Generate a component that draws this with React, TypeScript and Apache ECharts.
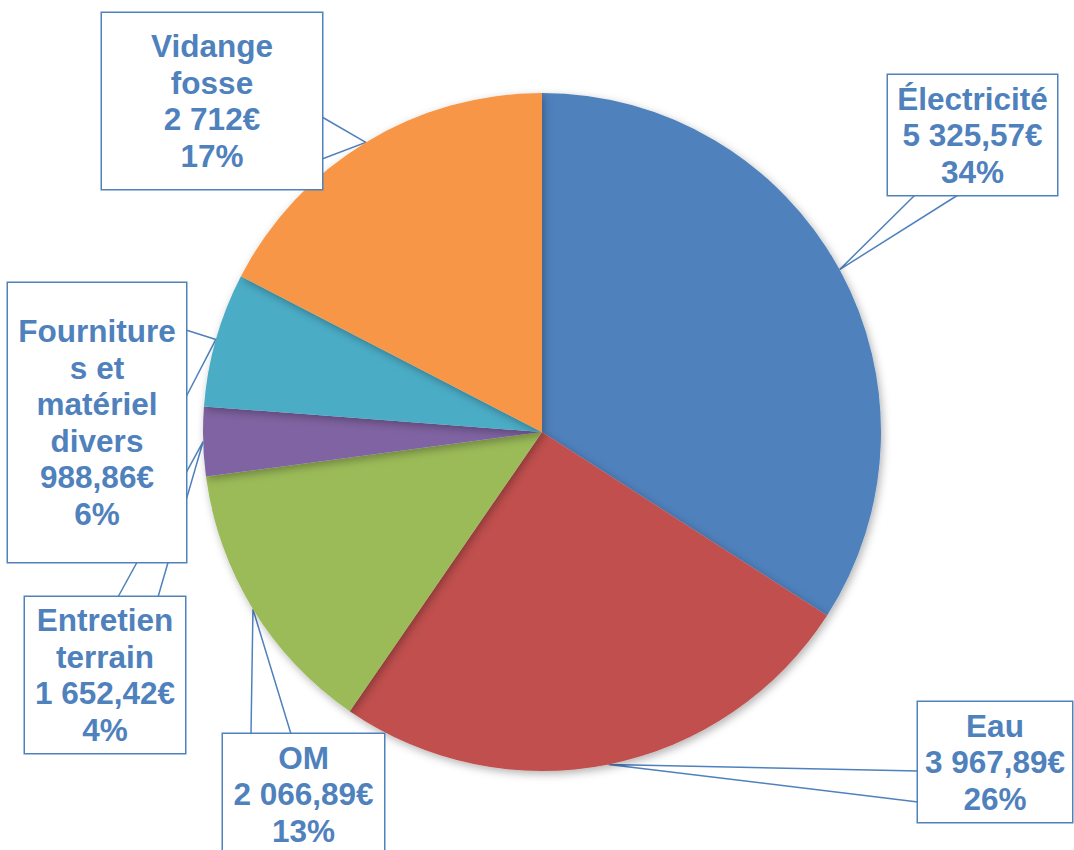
import React, { useEffect, useRef } from "react";
import * as echarts from "echarts";

const categories = [
  "Électricité",
  "Eau",
  "OM",
  "Entretien terrain",
  "Fournitures et matériel divers",
  "Vidange fosse",
];
const labelNames = [
  "Électricité",
  "Eau",
  "OM",
  "Entretien\nterrain",
  "Fourniture\ns et\nmatériel\ndivers",
  "Vidange\nfosse",
];
const amountLabels = ["5 325,57€", "3 967,89€", "2 066,89€", "1 652,42€", "988,86€", "2 712€"];
const percentLabels = ["34%", "26%", "13%", "4%", "6%", "17%"];
// slice shares
const shares = [34.1, 25.5, 13.3, 3.3, 6.4, 17.4];
const colors = ["#4F81BD", "#C0504D", "#9BBB59", "#8064A2", "#4BACC6", "#F79646"];

// Callout boxes (layout only)
const callouts = [
  { left: 888, top: 75, width: 169, height: 120, edge: "bottom", a: 27, b: 70 },
  { left: 918, top: 702, width: 154, height: 120, edge: "left", a: 69, b: 100 },
  { left: 223, top: 734, width: 161, height: 120, edge: "top", a: 28, b: 68 },
  { left: 25, top: 597, width: 160, height: 156, edge: "top", a: 93, b: 133 },
  { left: 8, top: 283, width: 178, height: 279, edge: "right", a: 47, b: 114 },
  { left: 102, top: 13, width: 220, height: 176, edge: "right", a: 104, b: 146 },
];

const CENTER = [542, 432];
const RADIUS = 339;
const LINE_H = 36.5;

function labelText(i: number) {
  return `${labelNames[i]}\n${amountLabels[i]}\n${percentLabels[i]}`;
}

function tipPoint(i: number) {
  const total = shares.reduce((s, v) => s + v, 0);
  let before = 0;
  for (let k = 0; k < i; k++) before += shares[k];
  const mid = ((before + shares[i] / 2) / total) * Math.PI * 2;
  return [CENTER[0] + RADIUS * Math.sin(mid), CENTER[1] - RADIUS * Math.cos(mid)];
}

function anchors(c: any) {
  switch (c.edge) {
    case "bottom":
      return [[c.left + c.a, c.top + c.height], [c.left + c.b, c.top + c.height]];
    case "top":
      return [[c.left + c.a, c.top], [c.left + c.b, c.top]];
    case "left":
      return [[c.left, c.top + c.a], [c.left, c.top + c.b]];
    default:
      return [[c.left + c.width, c.top + c.a], [c.left + c.width, c.top + c.b]];
  }
}

export default function App() {
  const ref = useRef<HTMLDivElement>(null);
  useEffect(() => {
    if (!ref.current) return;
    const chart = echarts.init(ref.current, undefined, { renderer: "svg" });
    const data = shares.map((v, i) => {
      const nLines = labelText(i).split("\n").length;
      const c = callouts[i];
      const pad = Math.max(0, (c.height - nLines * LINE_H) / 2);
      return {
        value: v,
        name: categories[i],
        itemStyle: { color: colors[i] },
        label: { width: c.width, padding: [pad, 0, pad, 0] },
      };
    });
    chart.setOption({
      animation: false,
      backgroundColor: "#ffffff",
      series: [
        {
          type: "pie",
          center: CENTER,
          radius: RADIUS,
          startAngle: 90,
          clockwise: true,
          silent: true,
          avoidLabelOverlap: false,
          data,
          itemStyle: {
            shadowBlur: 8,
            shadowColor: "rgba(0,0,0,0.3)",
            shadowOffsetX: 2,
            shadowOffsetY: 3,
          },
          label: {
            show: true,
            position: "outside",
            formatter: (p: any) => labelText(p.dataIndex),
            color: "#4F81BD",
            fontFamily: "'Liberation Sans', Arial, sans-serif",
            fontWeight: "bold",
            fontSize: 31.5,
            lineHeight: LINE_H,
            align: "center",
            backgroundColor: "#ffffff",
            borderColor: "#4F81BD",
            borderWidth: 1.5,
            overflow: "none",
          },
          labelLine: {
            show: true,
            smooth: false,
            lineStyle: { color: "#4F81BD", width: 1.5 },
          },
          labelLayout: (params: any) => {
            const i = params.dataIndex;
            const c = callouts[i];
            const [a, b] = anchors(c);
            return {
              x: c.left + c.width / 2,
              y: c.top + c.height / 2,
              align: "center",
              verticalAlign: "middle",
              labelLinePoints: [a, tipPoint(i), b],
            };
          },
        },
      ],
    });
    return () => chart.dispose();
  }, []);
  return (
    <div
      ref={ref}
      style={{ position: "fixed", left: 0, top: 0, width: 1074, height: 850, background: "#fff" }}
    />
  );
}
